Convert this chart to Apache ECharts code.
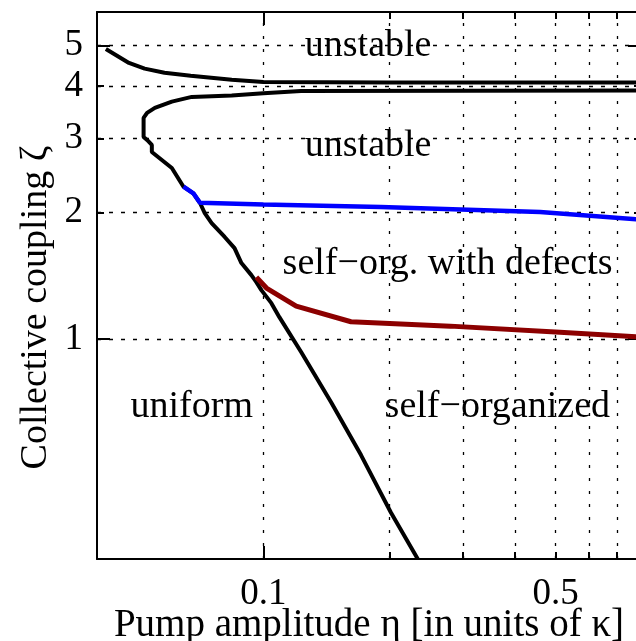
<!DOCTYPE html>
<html>
<head>
<meta charset="utf-8">
<script src="https://cdn.jsdelivr.net/npm/echarts@6/dist/echarts.min.js"></script>
<style>
  html, body { margin: 0; padding: 0; background: #fff; }
  #chart { width: 636px; height: 641px; }
</style>
</head>
<body>
<div id="chart"></div>
<script>
// phase boundaries, [eta, zeta]
const upperBranch = [
  [0.042, 4.90], [0.0477, 4.54], [0.052, 4.40], [0.058, 4.30], [0.067, 4.23],
  [0.084, 4.14], [0.1, 4.09], [0.2, 4.08], [0.8, 4.08]
];
const lowerBranch = [
  [0.8, 3.906], [0.123, 3.895], [0.1, 3.846], [0.084, 3.80], [0.0674, 3.769],
  [0.0604, 3.673], [0.055, 3.548], [0.0527, 3.452], [0.0517, 3.359], [0.0517, 3.027],
  [0.0527, 2.977], [0.0541, 2.897], [0.0541, 2.788], [0.0604, 2.554], [0.0644, 2.305],
  [0.068, 2.223], [0.0705, 2.111], [0.0724, 1.995], [0.0752, 1.889], [0.0808, 1.750],
  [0.0853, 1.647], [0.0886, 1.517], [0.0936, 1.420], [0.0962, 1.367], [0.0989, 1.308],
  [0.1045, 1.218], [0.1092, 1.128], [0.1232, 0.931], [0.1452, 0.708], [0.1712, 0.530],
  [0.2018, 0.387], [0.234, 0.30]
];
const defectLine = [
  [0.0644, 2.305], [0.068, 2.223], [0.0705, 2.111], [0.1, 2.09], [0.191, 2.062],
  [0.459, 2.006], [0.8, 1.925]
];
const selfOrgLine = [
  [0.0962, 1.405], [0.1017, 1.323], [0.1198, 1.198], [0.162, 1.10], [0.280, 1.074],
  [0.512, 1.039], [0.8, 1.011]
];

const regionNames = ['unstable', 'unstable', 'self\u2212org. with defects', 'uniform', 'self\u2212organized'];
const regionPos = [[0.178, 4.97], [0.178, 2.88], [0.2757, 1.51], [0.0674, 0.69], [0.3626, 0.69]];

const xMajorTicks = [0.1];
const xMinorTicks = [0.2, 0.3, 0.4, 0.5, 0.6, 0.7, 0.8];
const xLabels = [0.1, 0.5];
const xGrid = [0.1, 0.2, 0.3, 0.4, 0.5, 0.6, 0.7, 0.8];
const yMajorTicks = [1, 5];
const yMinorTicks = [2, 3, 4];
const yLabels = [1, 2, 3, 4, 5];
const yGrid = [1, 2, 3, 4, 5];

const FONT = 'Liberation Serif';
const FS = 37;

function xAx(pos, ticks, len, opts) {
  return Object.assign({
    type: 'log', logBase: 10, min: 0.04, max: 0.8, position: pos,
    axisLine: { show: false },
    axisTick: { show: true, inside: true, length: len, customValues: ticks,
      lineStyle: { color: '#000', width: 2 } },
    axisLabel: { show: false },
    splitLine: { show: false }
  }, opts || {});
}
function yAx(pos, ticks, len, opts) {
  return Object.assign({
    type: 'log', logBase: 10, min: 0.3, max: 6, position: pos,
    axisLine: { show: false },
    axisTick: { show: true, inside: true, length: len, customValues: ticks,
      lineStyle: { color: '#000', width: 2 } },
    axisLabel: { show: false },
    splitLine: { show: false }
  }, opts || {});
}

const chart = echarts.init(document.getElementById('chart'));
chart.setOption({
  animation: false,
  backgroundColor: '#fff',
  textStyle: { fontFamily: FONT },
  grid: { left: 97, right: -5, top: 12, bottom: 82, containLabel: false, outerBoundsMode: 'none' },
  xAxis: [
    xAx('bottom', xMajorTicks, 13, {
      axisLine: { show: true, lineStyle: { color: '#000', width: 2 } },
      axisLabel: { show: true, customValues: xLabels, margin: 17, color: '#000',
        fontFamily: FONT, fontSize: FS, formatter: v => String(+v.toFixed(2)) },
      name: 'Pump amplitude \u03b7 [in units of \u03ba]',
      nameLocation: 'middle', nameGap: 47, nameMoveOverlap: false,
      nameTextStyle: { color: '#000', fontFamily: FONT, fontSize: 39 }
    }),
    xAx('bottom', xMinorTicks, 7),
    xAx('top', xMajorTicks, 13, {
      axisLine: { show: true, lineStyle: { color: '#000', width: 2 } }
    }),
    xAx('top', xMinorTicks, 7)
  ],
  yAxis: [
    yAx('left', yMajorTicks, 13, {
      axisLine: { show: true, lineStyle: { color: '#000', width: 2 } },
      axisLabel: { show: true, customValues: yLabels, margin: 14, color: '#000',
        fontFamily: FONT, fontSize: FS, formatter: v => String(Math.round(v)) },
      name: 'Collective coupling \u03b6',
      nameLocation: 'middle', nameGap: 42, nameMoveOverlap: false,
      nameTextStyle: { color: '#000', fontFamily: FONT, fontSize: 38, padding: [0, 44, 0, 0] }
    }),
    yAx('left', yMinorTicks, 7),
    yAx('right', yMajorTicks, 13, {
      axisLine: { show: true, lineStyle: { color: '#000', width: 2 } }
    }),
    yAx('right', yMinorTicks, 7)
  ],
  series: [
    {
      type: 'line', name: 'upper', data: upperBranch, z: 3,
      showSymbol: false, symbol: 'none',
      lineStyle: { color: '#000', width: 4 },
      markLine: {
        silent: true, symbol: 'none', z: 1, animation: false,
        label: { show: false },
        data: yGrid.map(v => ({ yAxis: v, lineStyle: { color: '#000', width: 1.3, type: [4, 8] } }))
          .concat(xGrid.map(v => ({ xAxis: v, lineStyle: { color: '#000', width: 1.3, type: [3, 10] } })))
      }
    },
    {
      type: 'line', name: 'lower', data: lowerBranch, z: 3,
      showSymbol: false, symbol: 'none',
      lineStyle: { color: '#000', width: 4 }
    },
    {
      type: 'line', name: 'defects', data: defectLine, z: 4,
      showSymbol: false, symbol: 'none',
      lineStyle: { color: '#0000ff', width: 4.5 }
    },
    {
      type: 'line', name: 'selforg', data: selfOrgLine, z: 4,
      showSymbol: false, symbol: 'none',
      lineStyle: { color: '#8c0000', width: 5 }
    },
    {
      type: 'scatter', name: 'regions', z: 5, symbolSize: 0, silent: true,
      itemStyle: { color: '#000', opacity: 0 },
      data: regionPos.map((p, i) => ({ value: p, name: regionNames[i] })),
      label: {
        show: true, position: 'inside', formatter: '{b}',
        color: '#000', fontFamily: FONT, fontSize: 38,
        textBorderWidth: 0, textBorderColor: 'transparent', opacity: 1
      }
    }
  ]
});
</script>
</body>
</html>
